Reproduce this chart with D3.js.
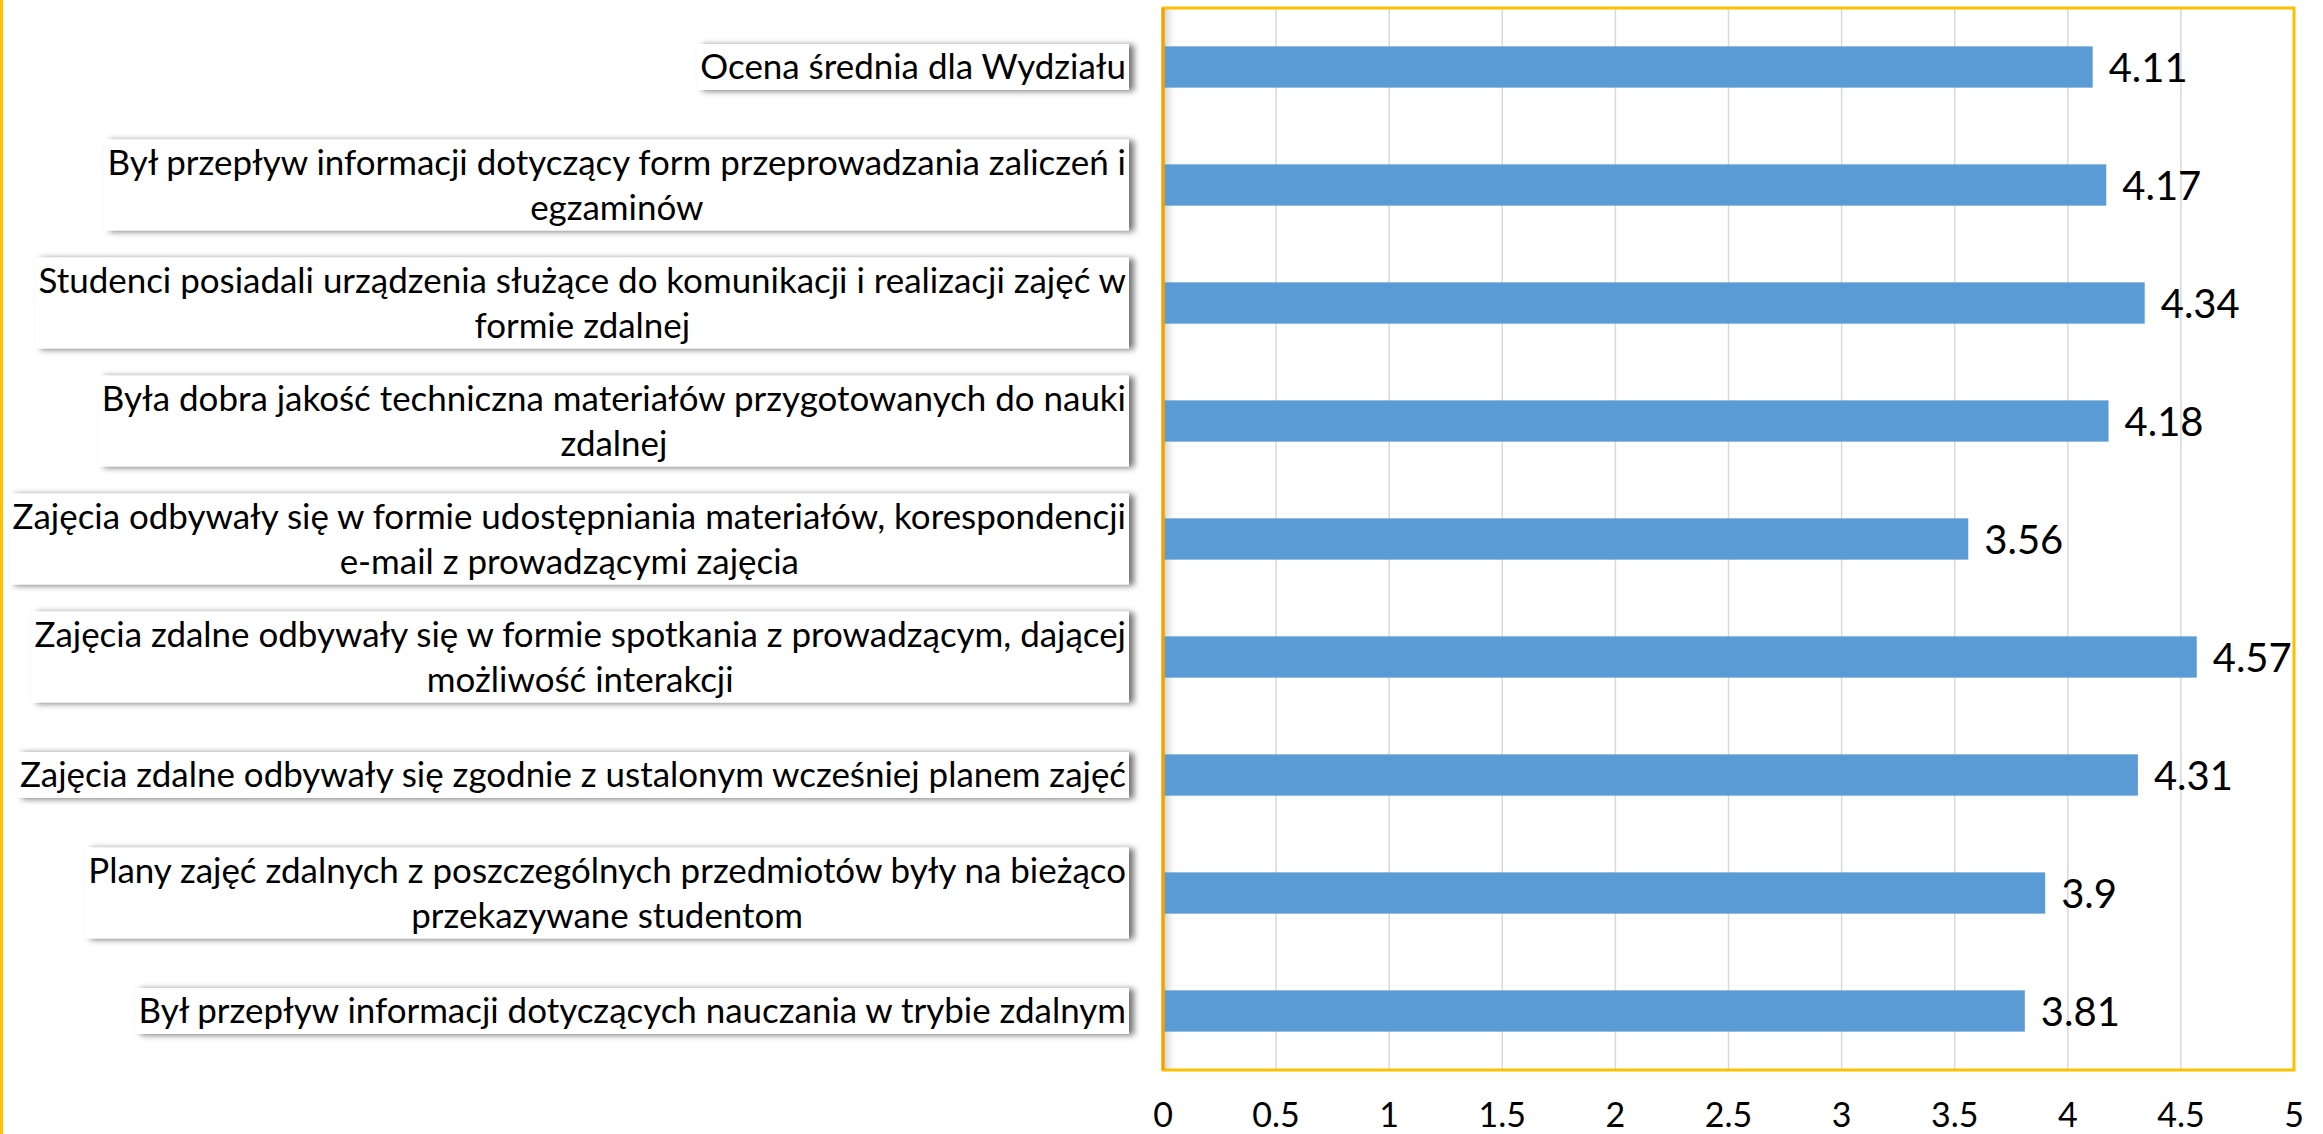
<!DOCTYPE html>
<html>
<head>
<meta charset="utf-8">
<script src="https://cdn.jsdelivr.net/npm/d3@7"></script>
<style>
  body { margin: 0; background: #fff; }
  svg { display: block; }
  text { font-family: Lato, "Open Sans", sans-serif; fill: #000; }
</style>
</head>
<body>
<script>
// questions, top to bottom, already split into the lines shown in the chart
const categories = [
  ["Ocena średnia dla Wydziału"],
  ["Był przepływ informacji dotyczący form przeprowadzania zaliczeń i", "egzaminów"],
  ["Studenci posiadali urządzenia służące do komunikacji i realizacji zajęć w", "formie zdalnej"],
  ["Była dobra jakość techniczna materiałów przygotowanych do nauki", "zdalnej"],
  ["Zajęcia odbywały się w formie udostępniania materiałów, korespondencji", "e-mail z prowadzącymi zajęcia"],
  ["Zajęcia zdalne odbywały się w formie spotkania z prowadzącym, dającej", "możliwość interakcji"],
  ["Zajęcia zdalne odbywały się zgodnie z ustalonym wcześniej planem zajęć"],
  ["Plany zajęć zdalnych z poszczególnych przedmiotów były na bieżąco", "przekazywane studentom"],
  ["Był przepływ informacji dotyczących nauczania w trybie zdalnym"]
];
const values = [4.11, 4.17, 4.34, 4.18, 3.56, 4.57, 4.31, 3.9, 3.81];
const ticks = [0, 0.5, 1, 1.5, 2, 2.5, 3, 3.5, 4, 4.5, 5];

const width = 2323,
  height = 1134;
const plot = { left: 1163, right: 2294, top: 8, bottom: 1070 };
const boxRight = 1129;
const maxLabelWidth = 1114;
const lineHeight = 45;

const x = d3.scaleLinear().domain([0, 5]).range([plot.left, plot.right]);

const y = d3
  .scaleBand()
  .domain(d3.range(values.length))
  .range([plot.top, plot.bottom])
  .paddingInner(0.65)
  .paddingOuter(0.325);

const svg = d3
  .select("body")
  .append("svg")
  .attr("width", width)
  .attr("height", height);

const defs = svg.append("defs");

defs
  .append("filter")
  .attr("id", "shadow")
  .attr("x", "-5%")
  .attr("y", "-40%")
  .attr("width", "110%")
  .attr("height", "180%")
  .append("feDropShadow")
  .attr("dx", 5)
  .attr("dy", 1)
  .attr("stdDeviation", 3)
  .attr("flood-color", "#000")
  .attr("flood-opacity", 0.55);

// soft grey shade right next to the value axis
const grad = defs
  .append("linearGradient")
  .attr("id", "axisShade")
  .attr("x1", 0)
  .attr("x2", 1);
grad.append("stop").attr("offset", 0).attr("stop-color", "#d0d0d0");
grad.append("stop").attr("offset", 1).attr("stop-color", "#fff").attr("stop-opacity", 0);

svg.append("rect").attr("width", width).attr("height", height).attr("fill", "#fff");

// yellow strip on the left edge
svg
  .append("rect")
  .attr("x", 0)
  .attr("y", 0)
  .attr("width", 3)
  .attr("height", height)
  .attr("fill", "#ffc000");

svg
  .append("rect")
  .attr("x", plot.left + 1)
  .attr("y", plot.top)
  .attr("width", 14)
  .attr("height", plot.bottom - plot.top)
  .attr("fill", "url(#axisShade)");

// vertical gridlines
svg
  .append("g")
  .selectAll("line")
  .data(ticks.slice(1, -1))
  .join("line")
  .attr("x1", (d) => x(d))
  .attr("x2", (d) => x(d))
  .attr("y1", plot.top)
  .attr("y2", plot.bottom)
  .attr("stroke", "#d9d9d9")
  .attr("stroke-width", 1.5);

// bars
svg
  .append("g")
  .selectAll("rect")
  .data(values)
  .join("rect")
  .attr("x", x(0))
  .attr("y", (d, i) => y(i))
  .attr("width", (d) => x(d) - x(0))
  .attr("height", y.bandwidth())
  .attr("fill", "#5b9bd5");

// value labels
svg
  .append("g")
  .selectAll("text")
  .data(values)
  .join("text")
  .attr("x", (d) => x(d) + 16)
  .attr("y", (d, i) => y(i) + y.bandwidth() / 2)
  .attr("dy", "0.37em")
  .style("font-size", "40px")
  .text((d) => d);

// plot border
svg
  .append("rect")
  .attr("x", plot.left)
  .attr("y", plot.top)
  .attr("width", plot.right - plot.left)
  .attr("height", plot.bottom - plot.top)
  .attr("fill", "none")
  .attr("stroke", "#ffc000")
  .attr("stroke-width", 3);

svg
  .append("line")
  .attr("x1", plot.left)
  .attr("x2", plot.left)
  .attr("y1", plot.top)
  .attr("y2", plot.bottom)
  .attr("stroke", "#f5a000")
  .attr("stroke-width", 3);

// x axis labels
svg
  .append("g")
  .selectAll("text")
  .data(ticks)
  .join("text")
  .attr("x", (d) => x(d))
  .attr("y", 1127)
  .attr("text-anchor", "middle")
  .style("font-size", "34px")
  .text((d) => d);

// category boxes
const cat = svg
  .append("g")
  .selectAll("g")
  .data(categories)
  .join("g")
  .attr("transform", (d, i) => `translate(0,${y(i) + y.bandwidth() / 2})`);

let fontSize = 32;

cat.each(function (lines) {
  const g = d3.select(this);
  g.append("rect").attr("fill", "#fff").attr("filter", "url(#shadow)");
  g.append("text")
    .attr("text-anchor", "middle")
    .selectAll("tspan")
    .data(lines)
    .join("tspan")
    .attr("x", 0)
    .attr("y", (d, j) => (j - (lines.length - 1) / 2) * lineHeight)
    .attr("dy", "0.35em")
    .text((d) => d);
});

// size the font so the longest line spans the same width as in the original
cat.selectAll("text").style("font-size", fontSize + "px");
const widest = d3.max(cat.selectAll("tspan").nodes(), (n) => n.getComputedTextLength());
fontSize = Math.min(38, (fontSize * maxLabelWidth) / widest);
cat.selectAll("text").style("font-size", fontSize + "px");

cat.each(function (lines) {
  const g = d3.select(this);
  const tspans = g.selectAll("tspan");
  const w = d3.max(tspans.nodes(), (n) => n.getComputedTextLength());
  const cx = boxRight - 3 - w / 2;
  tspans.attr("x", cx);
  const h = lines.length * lineHeight + 1;
  g.select("rect")
    .attr("x", cx - w / 2 - 3)
    .attr("y", -h / 2)
    .attr("width", w + 6)
    .attr("height", h);
});
</script>
</body>
</html>
